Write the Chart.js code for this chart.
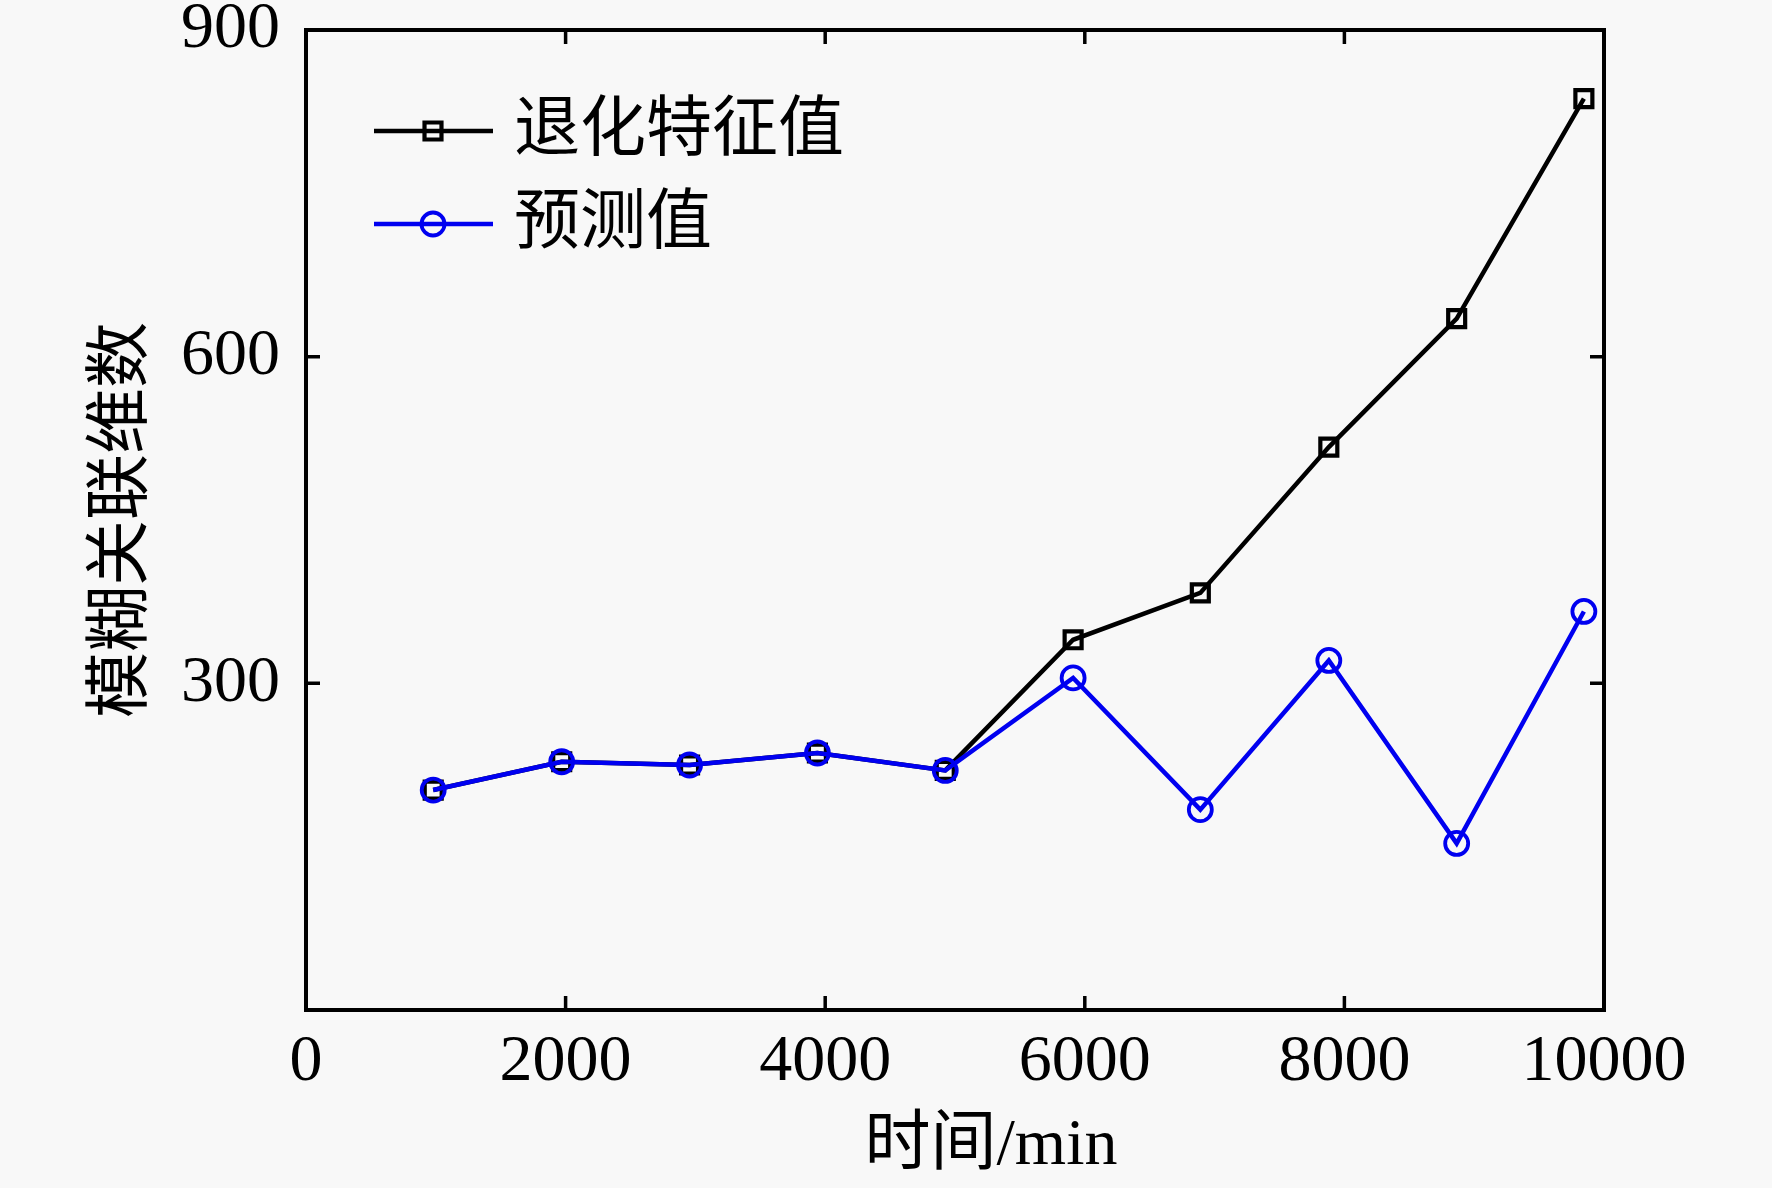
<!DOCTYPE html>
<html>
<head>
<meta charset="utf-8">
<title>模糊关联维数</title>
<script src="https://cdn.jsdelivr.net/npm/chart.js@4.4.0/dist/chart.umd.min.js"></script>
<style>
    html, body { margin: 0; padding: 0; background: #f8f8f8; }
    canvas { display: block; }
</style>
</head>
<body>
<canvas id="fuzzy-chart" width="1772" height="1188"></canvas>
<script>
// DATA
var timeValues = [980, 1970, 2955, 3940, 4925, 5910, 6890, 7880, 8865, 9845];
var featureValues = [202, 228, 225, 236, 220, 340, 383, 517, 635, 837];
var predictValues = [202, 228, 225, 236, 220, 305, 184, 321, 153, 366];
var xTickValues = [0, 2000, 4000, 6000, 8000, 10000];
var yTickValues = [300, 600, 900];
var seriesNames = ['退化特征值', '预测值'];
var xTitle = '时间/min';
var yTitle = '模糊关联维数';

(function () {
    'use strict';

    var FONT = '"Liberation Serif", "Noto Sans CJK SC", serif';
    var BLUE = '#0000f0';

    Chart.defaults.font.family = FONT;
    Chart.defaults.color = '#000';

    function toPoints(values) {
        return timeValues.map(function (t, i) {
            return { x: t, y: values[i] };
        });
    }

    function plainLabel(value) {
        return String(value);
    }

    //INWARD TICKS ON ALL FOUR SIDES AND THE FRAME
    var frame = {
        id: 'frame',
        afterDraw: function (chart) {
            var ctx = chart.ctx;
            var a = chart.chartArea;
            var xs = chart.scales.x;
            var ys = chart.scales.y;
            var len = 14;

            ctx.save();
            ctx.strokeStyle = '#000';
            ctx.lineWidth = 3.5;
            ctx.beginPath();
            xs.ticks.forEach(function (t) {
                if (t.value <= xs.min || t.value >= xs.max) return;
                var px = xs.getPixelForValue(t.value);
                ctx.moveTo(px, a.bottom);
                ctx.lineTo(px, a.bottom - len);
                ctx.moveTo(px, a.top);
                ctx.lineTo(px, a.top + len);
            });
            ys.ticks.forEach(function (t) {
                if (t.value <= ys.min || t.value >= ys.max) return;
                var py = ys.getPixelForValue(t.value);
                ctx.moveTo(a.left, py);
                ctx.lineTo(a.left + len, py);
                ctx.moveTo(a.right, py);
                ctx.lineTo(a.right - len, py);
            });
            ctx.stroke();

            ctx.lineWidth = 4;
            ctx.strokeRect(a.left, a.top, a.right - a.left, a.bottom - a.top);

            //X AXIS TITLE
            ctx.fillStyle = '#000';
            ctx.font = '66px ' + FONT;
            ctx.textAlign = 'center';
            ctx.textBaseline = 'middle';
            ctx.fillText(xTitle, 991, 1147);
            ctx.restore();
        }
    };

    //LEGEND WITH LINE + MARKER INSIDE THE PLOT
    var lineLegend = {
        id: 'lineLegend',
        afterDraw: function (chart) {
            var ctx = chart.ctx;
            var rows = [
                { ds: chart.data.datasets[1], y: 131 },
                { ds: chart.data.datasets[0], y: 224 }
            ];

            ctx.save();
            rows.forEach(function (row) {
                var ds = row.ds;
                ctx.strokeStyle = ds.borderColor;
                ctx.lineWidth = ds.borderWidth;
                ctx.beginPath();
                ctx.moveTo(374, row.y);
                ctx.lineTo(493, row.y);
                ctx.stroke();

                ctx.fillStyle = 'rgba(0,0,0,0)';
                ctx.lineWidth = ds.pointBorderWidth;
                Chart.helpers.drawPoint(ctx, {
                    pointStyle: ds.pointStyle,
                    radius: ds.pointRadius,
                    borderWidth: ds.pointBorderWidth,
                    rotation: 0
                }, 433, row.y);

                ctx.fillStyle = '#000';
                ctx.font = '66px ' + FONT;
                ctx.textAlign = 'left';
                ctx.textBaseline = 'middle';
                ctx.fillText(ds.label, 514, row.y + 2);
            });
            ctx.restore();
        }
    };

    new Chart(document.getElementById('fuzzy-chart'), {
        type: 'scatter',
        data: {
            datasets: [
                {
                    label: seriesNames[1],
                    data: toPoints(predictValues),
                    showLine: true,
                    borderColor: BLUE,
                    borderWidth: 4.5,
                    pointStyle: 'circle',
                    pointRadius: 11.5,
                    pointBorderWidth: 3.8,
                    pointBorderColor: BLUE,
                    pointBackgroundColor: 'rgba(0,0,0,0)',
                    order: 0
                },
                {
                    label: seriesNames[0],
                    data: toPoints(featureValues),
                    showLine: true,
                    borderColor: '#000',
                    borderWidth: 4.5,
                    pointStyle: 'rect',
                    pointRadius: 12,
                    pointBorderWidth: 4.2,
                    pointBorderColor: '#000',
                    pointBackgroundColor: 'rgba(0,0,0,0)',
                    order: 1
                }
            ]
        },
        options: {
            responsive: false,
            animation: false,
            devicePixelRatio: 1,
            layout: { padding: { left: 0, top: 30, right: 168, bottom: 0 } },
            plugins: {
                legend: { display: false },
                tooltip: { enabled: false }
            },
            scales: {
                x: {
                    type: 'linear',
                    min: 0,
                    max: 10000,
                    grid: { display: false, drawTicks: false },
                    border: { display: false },
                    ticks: {
                        padding: 20,
                        color: '#000',
                        maxRotation: 0,
                        font: { size: 66, lineHeight: 1 },
                        callback: plainLabel
                    },
                    afterBuildTicks: function (scale) {
                        scale.ticks = xTickValues.map(function (v) { return { value: v }; });
                    },
                    afterFit: function (scale) {
                        scale.height = 178;
                        scale.paddingLeft = 0;
                        scale.paddingRight = 0;
                    }
                },
                y: {
                    type: 'linear',
                    min: 0,
                    max: 900,
                    grid: { display: false, drawTicks: false },
                    border: { display: false },
                    ticks: {
                        padding: 26,
                        color: '#000',
                        font: { size: 66, lineHeight: 1 },
                        callback: plainLabel
                    },
                    title: {
                        display: true,
                        text: yTitle,
                        color: '#000',
                        font: { size: 66, lineHeight: 1 },
                        padding: { top: 91, bottom: 0 }
                    },
                    afterBuildTicks: function (scale) {
                        scale.ticks = yTickValues.map(function (v) { return { value: v }; });
                    },
                    afterFit: function (scale) {
                        scale.width = 306;
                        scale.paddingTop = 0;
                        scale.paddingBottom = 0;
                    }
                }
            }
        },
        plugins: [frame, lineLegend]
    });
})();
</script>
</body>
</html>
